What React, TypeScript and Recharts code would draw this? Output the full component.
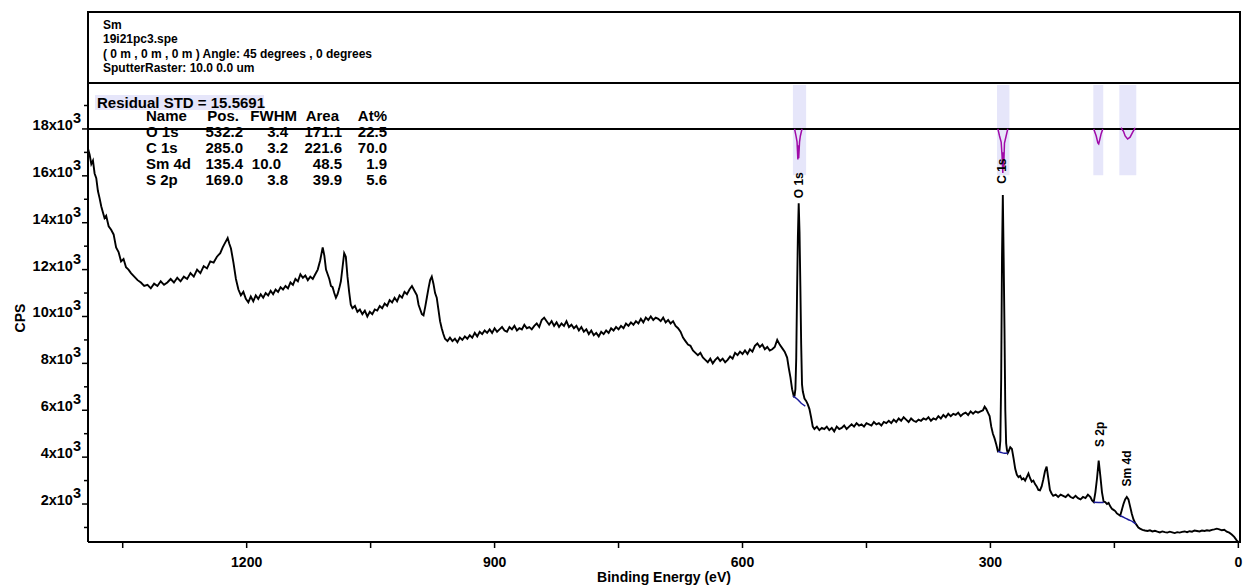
import {
  LineChart,
  Line,
  XAxis,
  YAxis,
  ReferenceArea,
  ReferenceLine,
  ReferenceDot,
} from 'recharts'

type Pt = [number, number]

// survey spectrum, [binding energy (eV), CPS]
const highBE: Pt[] = [
  [1392, 17150], [1390, 16900], [1388, 16500], [1386, 16650], [1384, 16100], [1382, 15900],
  [1380, 15350], [1378, 15050], [1376, 14700], [1374, 14450], [1372, 14200], [1370, 14300],
  [1367, 13850], [1364, 13700], [1361, 13500], [1358, 12950], [1355, 12750], [1352, 12350],
  [1349, 12450], [1346, 12100], [1343, 12000], [1340, 11850], [1336, 11700], [1332, 11550],
  [1328, 11450], [1324, 11300], [1320, 11350], [1316, 11200], [1312, 11400], [1308, 11300],
  [1304, 11500], [1300, 11350], [1296, 11450], [1292, 11600], [1288, 11450], [1284, 11650],
  [1280, 11500], [1276, 11700], [1272, 11600], [1268, 11850], [1264, 11700], [1260, 12000],
  [1256, 11850], [1252, 12150], [1248, 12050], [1244, 12350], [1240, 12300], [1236, 12550],
  [1232, 12700], [1229, 12950], [1226, 13150], [1223, 13350], [1221, 13100], [1219, 12900],
  [1216, 12300], [1213, 11600], [1210, 11150], [1207, 10900], [1204, 11050], [1201, 10750],
  [1198, 10600], [1195, 10850], [1192, 10650], [1189, 10900], [1186, 10750], [1183, 10950],
  [1180, 10800], [1177, 11000], [1174, 10900], [1171, 11100], [1168, 10950], [1165, 11150],
  [1162, 11050], [1159, 11250], [1156, 11150], [1153, 11300], [1150, 11200], [1147, 11450],
  [1144, 11350], [1141, 11600], [1138, 11500], [1135, 11800], [1132, 11650], [1129, 11750],
  [1126, 11550], [1123, 11700], [1120, 11600], [1117, 11800], [1114, 12000], [1111, 12400],
  [1108, 12950], [1106, 12600], [1104, 12000], [1102, 11800], [1100, 11600], [1098, 11300],
  [1096, 11250], [1094, 11000], [1092, 10800], [1090, 10950], [1088, 11200], [1086, 11500],
  [1084, 12100], [1082, 12700], [1080, 12550], [1078, 11700], [1076, 11050], [1074, 10500],
  [1072, 10350], [1069, 10450], [1066, 10200], [1063, 10300], [1060, 10100], [1057, 10250],
  [1054, 10000], [1051, 10200], [1048, 10100], [1045, 10300], [1042, 10250], [1039, 10450],
  [1036, 10350], [1033, 10550], [1030, 10450], [1027, 10700], [1024, 10600], [1021, 10800],
  [1018, 10650], [1015, 10900], [1012, 10800], [1009, 11050], [1006, 10950], [1003, 11150],
  [1000, 11300], [997, 11100], [994, 10900], [992, 10500], [990, 10300], [988, 10100],
  [986, 10050], [984, 10400], [982, 10800], [980, 11200], [978, 11550], [976, 11700],
  [974, 11400], [972, 11000], [970, 10800], [968, 10300], [966, 9800], [964, 9500],
  [962, 9250], [960, 9050],
]

const plateau: Pt[] = [
  [957, 8950], [954, 9100], [951, 8950], [948, 9050], [945, 8900], [942, 9100], [939, 9000],
  [936, 9150], [933, 9050], [930, 9200], [927, 9100], [924, 9300], [921, 9150], [918, 9350],
  [915, 9250], [912, 9400], [909, 9300], [906, 9450], [903, 9300], [900, 9500], [897, 9350],
  [894, 9450], [891, 9550], [888, 9400], [885, 9350], [882, 9550], [879, 9450], [876, 9600],
  [873, 9400], [870, 9500], [867, 9450], [864, 9650], [861, 9500], [858, 9550], [855, 9450],
  [852, 9600], [849, 9700], [846, 9550], [843, 9850], [840, 9950], [837, 9800], [834, 9650],
  [831, 9800], [828, 9600], [825, 9750], [822, 9550], [819, 9700], [816, 9600], [813, 9800],
  [810, 9550], [807, 9650], [804, 9500], [801, 9600], [798, 9400], [795, 9550], [792, 9350],
  [789, 9450], [786, 9250], [783, 9400], [780, 9200], [777, 9300], [774, 9150], [771, 9350],
  [768, 9250], [765, 9400], [762, 9300], [759, 9500], [756, 9400], [753, 9550], [750, 9450],
  [747, 9600], [744, 9500], [741, 9700], [738, 9600], [735, 9750], [732, 9650], [729, 9800],
  [726, 9700], [723, 9900], [720, 9750], [717, 9950], [714, 9850], [711, 10000], [708, 9850],
  [705, 9950], [702, 9900], [699, 9800], [696, 9950], [693, 9750], [690, 9850], [687, 9700],
  [684, 9800], [681, 9600], [678, 9500], [675, 9350], [672, 9100], [669, 8950], [666, 8800],
  [663, 8750], [660, 8550], [657, 8450], [654, 8350], [651, 8450], [648, 8250], [645, 8150],
  [642, 8050], [639, 8200], [636, 8000], [633, 8150], [630, 8250], [627, 8100], [624, 8200],
  [621, 8050], [618, 8150], [615, 8300], [612, 8200], [609, 8450], [606, 8350], [603, 8500],
  [600, 8400], [597, 8550], [594, 8400], [591, 8600], [588, 8500], [585, 8750], [582, 8850],
  [579, 8700], [576, 8800], [573, 8600], [570, 8700], [567, 8550], [564, 8600], [561, 8700],
  [558, 9000], [555, 8800], [552, 8650], [549, 8500], [546, 8250], [544, 7800], [542, 7400],
  [540, 6900], [538, 6600], [537, 6620], [536, 6900], [535, 8200], [534, 11000], [533, 13400],
  [532, 14830], [531, 13600], [530, 11300], [529, 8800], [528, 7100], [527, 6800], [525, 6500],
  [523, 6400], [521, 6250], [519, 6050], [517, 5700], [515, 5300], [513, 5200],
]

const carbonRegion: Pt[] = [
  [510, 5300], [507, 5150], [504, 5250], [501, 5200], [498, 5300], [495, 5150], [492, 5250],
  [489, 5100], [486, 5300], [483, 5200], [480, 5250], [477, 5350], [474, 5200], [471, 5300],
  [468, 5400], [465, 5300], [462, 5450], [459, 5350], [456, 5400], [453, 5300], [450, 5450],
  [447, 5400], [444, 5350], [441, 5500], [438, 5400], [435, 5450], [432, 5350], [429, 5500],
  [426, 5450], [423, 5550], [420, 5450], [417, 5600], [414, 5500], [411, 5650], [408, 5550],
  [405, 5700], [402, 5600], [399, 5500], [396, 5650], [393, 5550], [390, 5500], [387, 5600],
  [384, 5550], [381, 5650], [378, 5600], [375, 5700], [372, 5550], [369, 5650], [366, 5600],
  [363, 5750], [360, 5650], [357, 5800], [354, 5700], [351, 5850], [348, 5750], [345, 5850],
  [342, 5800], [339, 5900], [336, 5750], [333, 5850], [330, 5900], [327, 5800], [324, 5950],
  [321, 5850], [318, 5950], [315, 5900], [312, 5950], [309, 6000], [307, 6150], [305, 6050],
  [303, 5900], [301, 5750], [299, 5300], [297, 5000], [295, 4800], [293, 4550], [291, 4250],
  [289, 4300], [288, 4700], [287, 7300], [286, 12500], [285, 15180], [284, 12500], [283, 9500],
  [282, 6000], [281, 4600], [280, 4300], [279, 4180], [278, 4250], [276, 4420], [274, 4350],
  [272, 3950], [270, 3500], [268, 3250], [266, 3150], [264, 3200], [262, 3050], [260, 3100],
  [258, 3000], [256, 3150], [254, 3300], [252, 3100], [250, 2950], [248, 3000], [246, 2850],
  [244, 2750], [242, 2600], [240, 2580], [238, 2750], [236, 3050], [234, 3400], [232, 3600],
  [230, 3100], [228, 2600], [226, 2450], [224, 2350],
]

const lowBE: Pt[] = [
  [221, 2400], [218, 2300], [215, 2400], [212, 2350], [209, 2300], [206, 2400], [203, 2300],
  [200, 2250], [197, 2350], [194, 2250], [191, 2200], [188, 2300], [185, 2250], [182, 2400],
  [179, 2300], [177, 2150], [175, 2080], [173, 2500], [171, 3100], [169, 3850], [167, 3200],
  [165, 2500], [163, 2100], [161, 2080], [159, 2000], [157, 2050], [155, 1900], [153, 1800],
  [151, 1750], [149, 1700], [147, 1600], [145, 1550], [143, 1500], [141, 1750], [139, 2000],
  [137, 2200], [135, 2300], [133, 2200], [131, 1900], [129, 1600], [127, 1350], [125, 1200],
  [123, 1100], [121, 1000], [119, 950], [116, 900], [113, 870], [110, 850], [107, 880],
  [104, 830], [101, 860], [98, 820], [95, 790], [92, 830], [89, 800], [86, 780], [83, 820],
  [80, 790], [77, 760], [74, 800], [71, 780], [68, 810], [65, 830], [62, 800], [59, 840],
  [56, 820], [53, 870], [50, 850], [47, 830], [44, 870], [41, 850], [38, 880], [35, 860],
  [32, 900], [29, 920], [26, 950], [23, 920], [20, 880], [17, 900], [14, 820], [11, 780],
  [8, 700], [5, 600], [2, 450], [0, 385],
]

// fitted backgrounds under each peak
const o1sBackground: Pt[] = [[539, 6600], [534, 6480], [529, 6300], [524, 6180]]
const c1sBackground: Pt[] = [[291, 4250], [287, 4200], [283, 4170], [279, 4180]]
const s2pBackground: Pt[] = [[175, 2080], [169, 2070], [163, 2060]]
const sm4dBackground: Pt[] = [[143, 1500], [138, 1420], [133, 1330], [128, 1250], [124, 1150]]

// residuals, plotted around the 18x10^3 line
const o1sResidual: Pt[] = [
  [537, 18000], [535, 17650], [534, 17450], [533, 16700], [532.5, 17300], [532, 16750],
  [531, 17450], [530, 17700], [528, 18000],
]
const c1sResidual: Pt[] = [
  [291, 18000], [289, 17700], [287, 17440], [286, 16900], [285, 16120], [284.5, 17000],
  [284, 16300], [283, 17400], [281, 17700], [279, 18000],
]
const s2pResidual: Pt[] = [[175, 18000], [172, 17700], [170, 17400], [169, 17360], [168, 17500], [166, 17800], [164, 18000]]
const sm4dResidual: Pt[] = [[142, 18050], [139, 17900], [137, 17700], [134, 17570], [131, 17650], [128, 17850], [125, 18050]]

const residualWindows: Pt[] = [[539, 523], [292, 277], [175.5, 163.5], [144, 123.5]]

const peakLabels = ['O 1s', 'C 1s', 'S 2p', 'Sm 4d']
const peakLabelAt: Pt[] = [[532, 15600], [285.7, 16200], [167, 4970], [134.4, 3520]]

const xTicks = [1350, 1200, 1050, 900, 750, 600, 450, 300, 150, 0]
const yTicks = [1000, 2000, 3000, 4000, 5000, 6000, 7000, 8000, 9000, 10000, 11000, 12000, 13000, 14000, 15000, 16000, 17000, 18000, 19000]

const headerLines = [
  'Sm',
  '19i21pc3.spe',
  '( 0 m , 0 m , 0 m ) Angle: 45 degrees , 0 degrees',
  'SputterRaster: 10.0 0.0 um',
]
const tableHead = ['Name', 'Pos.', 'FWHM', 'Area', 'At%']
const fitNames = ['O 1s', 'C 1s', 'Sm 4d', 'S 2p']
const fitPos = ['532.2', '285.0', '135.4', '169.0']
const fitFwhm = ['3.4', '3.2', '10.0', '3.8']
const fitArea = ['171.1', '221.6', '48.5', '39.9']
const fitAt = ['22.5', '70.0', '1.9', '5.6']

const FONT = '"Liberation Sans", Arial, sans-serif'
const rows = (pts: Pt[]) => pts.map(([x, y]) => ({ x, y }))
const survey = rows([...highBE, ...plateau, ...carbonRegion, ...lowBE])

function YTick({ x, y, payload }: any) {
  const v = payload.value as number
  const major = v % 2000 === 0
  return (
    <g>
      <line x1={x - (major ? 6 : 4)} x2={x} y1={y} y2={y} stroke="#000" strokeWidth={1.5} />
      {major && (
        <text x={x - 7} y={y + 1} textAnchor="end" fontFamily={FONT} fontWeight="bold" fontSize={14.5} fill="#000">
          {v / 1000}x10<tspan dy={-7}>3</tspan>
        </text>
      )}
    </g>
  )
}

function XTick({ x, y, payload }: any) {
  const v = payload.value as number
  const major = v % 300 === 0
  return (
    <g>
      <line x1={x} x2={x} y1={y} y2={y + 6} stroke="#000" strokeWidth={1.5} />
      {major && (
        <text x={x} y={y + 25} textAnchor="middle" fontFamily={FONT} fontWeight="bold" fontSize={14} fill="#000">
          {v}
        </text>
      )}
    </g>
  )
}

const abs = { position: 'absolute' as const, whiteSpace: 'nowrap' as const, lineHeight: '12px' }

function cell(text: string, right: number, top: number, key: string) {
  return (
    <div key={key} style={{ ...abs, left: right - 80, width: 80, top, textAlign: 'right' }}>
      {text}
    </div>
  )
}

export default function App() {
  const headTop = 109.5
  const rowTops = [125.5, 141.5, 158, 174]
  return (
    <div style={{ position: 'absolute', left: 0, top: 0, width: 1244, height: 588, fontFamily: FONT, fontWeight: 'bold', color: '#000', background: '#fff' }}>
      {/* header box */}
      <div style={{ position: 'absolute', left: 87, top: 11, width: 1154, height: 73, border: '2px solid #000', boxSizing: 'border-box' }} />
      <div style={{ position: 'absolute', left: 103, top: 18, fontSize: 12, lineHeight: '14.3px', whiteSpace: 'nowrap' }}>
        {headerLines.map((t) => (
          <div key={t}>{t}</div>
        ))}
      </div>
      {/* right frame */}
      <div style={{ position: 'absolute', left: 1239, top: 83, width: 2, height: 460, background: '#000' }} />

      {/* fit table */}
      <div style={{ position: 'absolute', left: 95, top: 95, width: 169, height: 15, background: '#e6e6fa' }} />
      <div style={{ ...abs, left: 97, top: 97, fontSize: 15 }}>Residual STD = 15.5691</div>
      <div style={{ position: 'absolute', left: 0, top: 0, fontSize: 15 }}>
        <div style={{ ...abs, left: 146, top: headTop }}>{tableHead[0]}</div>
        {cell(tableHead[1], 239, headTop, 'h1')}
        {cell(tableHead[2], 297, headTop, 'h2')}
        {cell(tableHead[3], 339, headTop, 'h3')}
        {cell(tableHead[4], 387, headTop, 'h4')}
        {fitNames.map((n, i) => (
          <div key={n}>
            <div style={{ ...abs, left: 146, top: rowTops[i] }}>{n}</div>
            {cell(fitPos[i], 243, rowTops[i], n + 'p')}
            {cell(fitFwhm[i], fitFwhm[i].length > 3 ? 281 : 288, rowTops[i], n + 'f')}
            {cell(fitArea[i], 342, rowTops[i], n + 'a')}
            {cell(fitAt[i], 387, rowTops[i], n + 't')}
          </div>
        ))}
      </div>

      <div style={{ position: 'absolute', left: 0, top: 0 }}>
        <LineChart width={1244} height={588} margin={{ top: 83, right: 4, bottom: 0, left: 0 }}>
          <XAxis
            dataKey="x"
            type="number"
            domain={[-2, 1392]}
            reversed
            allowDataOverflow
            ticks={xTicks}
            interval={0}
            tick={<XTick />}
            tickLine={false}
            tickSize={0}
            tickMargin={0}
            height={46}
            axisLine={{ stroke: '#000', strokeWidth: 2 }}
            label={{
              content: () => (
                <text x={664} y={582} textAnchor="middle" fontFamily={FONT} fontWeight="bold" fontSize={14} fill="#000">
                  Binding Energy (eV)
                </text>
              ),
            }}
          />
          <YAxis
            type="number"
            domain={[380, 19960]}
            allowDataOverflow
            ticks={yTicks}
            interval={0}
            tick={<YTick />}
            tickLine={false}
            tickSize={0}
            tickMargin={0}
            width={88}
            axisLine={{ stroke: '#000', strokeWidth: 2 }}
            label={{
              content: () => (
                <text x={20} y={318} transform="rotate(-90, 20, 318)" textAnchor="middle" dominantBaseline="central" fontFamily={FONT} fontWeight="bold" fontSize={14} fill="#000">
                  CPS
                </text>
              ),
            }}
          />
          {residualWindows.map(([a, b], i) => (
            <ReferenceArea key={i} x1={a} x2={b} y1={16030} y2={19880} fill="#e6e6fa" fillOpacity={1} stroke="none" ifOverflow="visible" />
          ))}
          <ReferenceLine y={18000} stroke="#000" strokeWidth={2} />
          <Line data={survey} dataKey="y" type="linear" stroke="#000" strokeWidth={1.9} dot={false} isAnimationActive={false} />
          {[o1sBackground, c1sBackground, s2pBackground, sm4dBackground].map((d, i) => (
            <Line key={'bg' + i} data={rows(d)} dataKey="y" type="monotone" stroke="#1a1a9c" strokeWidth={1.5} dot={false} isAnimationActive={false} />
          ))}
          {[o1sResidual, c1sResidual, s2pResidual, sm4dResidual].map((d, i) => (
            <Line key={'res' + i} data={rows(d)} dataKey="y" type="linear" stroke="#a00aa8" strokeWidth={1.5} dot={false} isAnimationActive={false} />
          ))}
          {peakLabels.map((name, i) => (
            <ReferenceDot
              key={name}
              x={peakLabelAt[i][0]}
              y={peakLabelAt[i][1]}
              r={0}
              ifOverflow="visible"
              shape={(p: any) => (
                <text
                  x={p.cx}
                  y={p.cy}
                  transform={`rotate(-90, ${p.cx}, ${p.cy})`}
                  textAnchor="middle"
                  dominantBaseline="central"
                  fontFamily={FONT}
                  fontWeight="bold"
                  fontSize={12}
                  fill="#000"
                >
                  {name}
                </text>
              )}
            />
          ))}
        </LineChart>
      </div>
    </div>
  )
}
